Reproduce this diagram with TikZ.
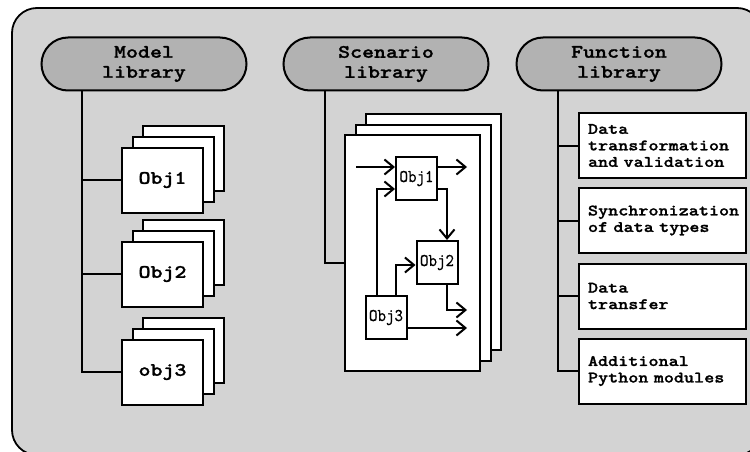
\documentclass[tikz,border=0pt]{standalone}
\usepackage{fontspec}
% Courier-like slab-serif mono faces, widened to typewriter proportions
\newfontfamily\labelfont[Extension=.otf,FakeStretch=1.2,FakeBold=1.2]{lmmonolt10-bold}
\newfontfamily\smallfont[Extension=.otf,FakeStretch=0.9,FakeBold=0.6]{lmmono10-regular}
\usetikzlibrary{arrows.meta}
\definecolor{panel}{RGB}{211,211,211}
\definecolor{pillgray}{RGB}{178,178,178}
\tikzset{
  every picture/.style={x=1pt,y=-1pt},
  thick line/.style={line width=2pt},
  pill/.style={draw,thick line,fill=pillgray,rounded corners=26.5pt,
    minimum width=205pt,minimum height=53pt,inner sep=0pt,align=center,
    font=\labelfont\fontsize{19}{20}\selectfont},
  objbox/.style={draw,thick line,fill=white,minimum width=81pt,
    minimum height=65pt,inner sep=0pt,
    font=\labelfont\fontsize{19}{20}\selectfont},
  scenbox/.style={draw,thick line,fill=white,minimum width=135pt,
    minimum height=236pt,inner sep=0pt},
  fnbox/.style={draw,thick line,fill=white,text width=149pt,inner xsep=9pt,
    inner ysep=0pt,minimum height=65pt,align=left,
    font=\labelfont\fontsize{16}{16.5}\selectfont},
  inbox/.style={draw,thick line,fill=white,minimum width=41pt,
    minimum height=43pt,inner sep=0pt,
    font=\smallfont\fontsize{18}{18}\selectfont},
  arr/.style={thick line,-{Straight Barb[length=9pt,width=15pt]}},
}
\begin{document}
\begin{tikzpicture}
\useasboundingbox (0,0) rectangle (750,452);
\begin{scope}
\clip (0,0) rectangle (750,452);
% background panel
\draw[line width=1.8pt,fill=panel,rounded corners=25pt] (12,8) rectangle (762,455);

% ---------- model library ----------
\node[pill] (mp) at (144,64) {Model\\library};
\foreach \n/\y/\t in {1/180/Obj1,2/274/Obj2,3/372/obj3}{
  \node[objbox] (m\n c) at (162.5+21,\y-22) {};
  \node[objbox] (m\n b) at (162.5+10.5,\y-11) {};
  \node[objbox] (m\n) at (162.5,\y) {\t};
}
\coordinate (mv) at (82,372);
\draw[thick line] (mv |- mp.south) -- (mv) -- (m3.west);
\draw[thick line] (mv |- m1.west) -- (m1.west);
\draw[thick line] (mv |- m2.west) -- (m2.west);

% ---------- scenario library ----------
\node[pill] (sp) at (386,64) {Scenario\\library};
\node[scenbox] (sc) at (412.5+21,253-21) {};
\node[scenbox] (sb) at (412.5+10.5,253-10.5) {};
\node[scenbox] (sf) at (412.5,253) {};
\coordinate (sv) at (325,263);
\draw[thick line] (sv |- sp.south) -- (sv) -- (sv -| sf.west);

% object network inside the scenario
\node[inbox] (o1) at (416.5,178.5) {Obj1};
\node[inbox] (o2) at (437,262.5) {Obj2};
\node[inbox] (o3) at (386,317.5) {Obj3};
\coordinate (in1) at (356,167);
\coordinate (out1) at (467,167);
\coordinate (a1) at (377,189);
\coordinate (a2) at (396,265);
\coordinate (a3) at (447,189);
\coordinate (a4) at (447,310);
\coordinate (out2) at (467,310);
\coordinate (out3) at (467,328);
\draw[arr] (in1) -- (in1 -| o1.west);
\draw[arr] (out1 -| o1.east) -- (out1);
\draw[arr] (a1 |- o3.north) -- (a1) -- (a1 -| o1.west);
\draw[arr] (a2 |- o3.north) -- (a2) -- (a2 -| o2.west);
\draw[arr] (a3 -| o1.east) -- (a3) -- (a3 |- o2.north);
\draw[arr] (a4 |- o2.south) -- (a4) -- (out2);
\draw[arr] (out3 -| o3.east) -- (out3);

% ---------- function library ----------
\node[pill] (fp) at (619,64) {Function\\library};
\node[fnbox] (f1) at (662.5,145.5) {Data\\transformation\\and validation};
\node[fnbox] (f2) at (662.5,220.5) {Synchronization\\of data types};
\node[fnbox] (f3) at (662.5,296) {Data\\transfer};
\node[fnbox] (f4) at (662.5,371) {Additional\\Python modules};
\coordinate (fv) at (558,371);
\draw[thick line] (fv |- fp.south) -- (fv) -- (f4.west);
\draw[thick line] (fv |- f1.west) -- (f1.west);
\draw[thick line] (fv |- f2.west) -- (f2.west);
\draw[thick line] (fv |- f3.west) -- (f3.west);
\end{scope}
\end{tikzpicture}
\end{document}
